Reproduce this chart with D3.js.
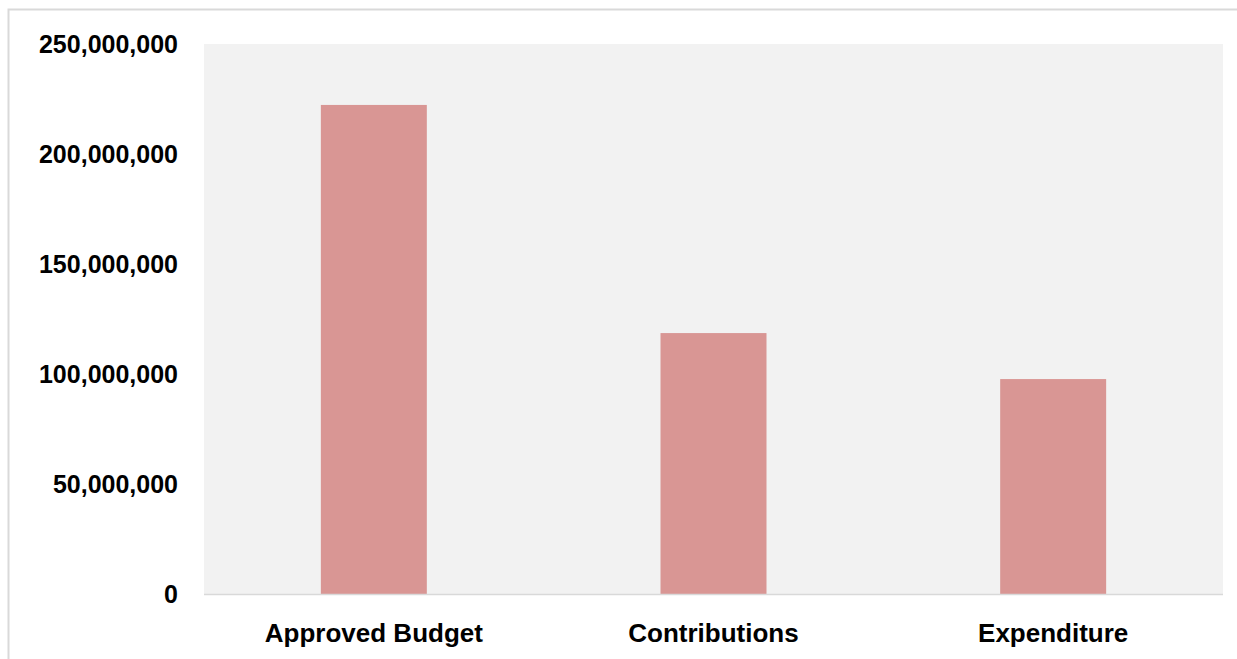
<!DOCTYPE html>
<html>
<head>
<meta charset="utf-8">
<script src="https://cdn.jsdelivr.net/npm/d3@7"></script>
<style>
  html, body { margin: 0; padding: 0; background: #ffffff; }
  svg { display: block; }
  text { font-family: "Liberation Sans", Arial, sans-serif; font-weight: bold; fill: #000; }
</style>
</head>
<body>
<svg id="chart" width="1237" height="659"></svg>
<script>
// Budget overview: approved amount vs. contributions received vs. spending
const categories = ["Approved Budget", "Contributions", "Expenditure"];
const amounts = [222300000, 118600000, 97700000];
const yTicks = [0, 50000000, 100000000, 150000000, 200000000, 250000000];

const W = 1237, H = 659;
const plot = { left: 204, right: 1223, top: 44, bottom: 594 };

const svg = d3.select("#chart");

// outer chart frame
svg.append("rect")
  .attr("x", 8.5).attr("y", 9.5)
  .attr("width", W + 10).attr("height", H + 10)
  .attr("fill", "#ffffff")
  .attr("stroke", "#d9d9d9").attr("stroke-width", 2);

// plot area background
svg.append("rect")
  .attr("x", plot.left).attr("y", plot.top)
  .attr("width", plot.right - plot.left).attr("height", plot.bottom - plot.top)
  .attr("fill", "#f2f2f2");

const x = d3.scaleBand()
  .domain(categories)
  .range([plot.left, plot.right])
  .paddingInner(0.688)
  .paddingOuter(0.344);

const y = d3.scaleLinear()
  .domain([0, 250000000])
  .range([plot.bottom, plot.top]);

// bars
svg.append("g").selectAll("rect")
  .data(categories.map((c, i) => ({ c, v: amounts[i] })))
  .join("rect")
  .attr("x", d => x(d.c))
  .attr("width", x.bandwidth())
  .attr("y", d => y(d.v))
  .attr("height", d => y(0) - y(d.v))
  .attr("fill", "#d99694");

// baseline
svg.append("line")
  .attr("x1", plot.left).attr("x2", plot.right)
  .attr("y1", plot.bottom + 0.5).attr("y2", plot.bottom + 0.5)
  .attr("stroke", "#d9d9d9").attr("stroke-width", 1.5);

// y axis labels
const fmt = d3.format(",");
const yAxis = d3.axisLeft(y)
  .tickValues(yTicks)
  .tickFormat(fmt)
  .tickSize(0)
  .tickPadding(0);
const gy = svg.append("g")
  .attr("transform", `translate(178,0)`)
  .call(yAxis);
gy.select(".domain").remove();
gy.selectAll("text")
  .attr("font-family", "Liberation Sans, Arial, sans-serif")
  .attr("font-weight", "bold")
  .attr("font-size", 25)
  .attr("fill", "#000");

// x axis labels
const xAxis = d3.axisBottom(x).tickSize(0).tickPadding(0);
const gx = svg.append("g")
  .attr("transform", `translate(0,624)`)
  .call(xAxis);
gx.select(".domain").remove();
gx.selectAll("text")
  .attr("font-family", "Liberation Sans, Arial, sans-serif")
  .attr("font-weight", "bold")
  .attr("font-size", 26)
  .attr("fill", "#000");
</script>
</body>
</html>
